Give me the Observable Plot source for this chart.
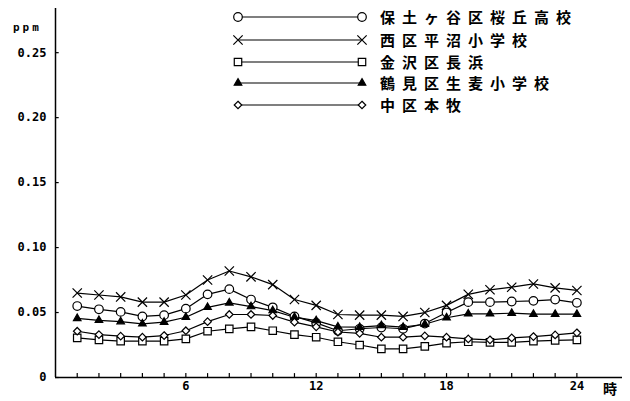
<!DOCTYPE html>
<html>
<head>
<meta charset="utf-8">
<script src="https://cdn.jsdelivr.net/npm/d3@7"></script>
<script src="https://cdn.jsdelivr.net/npm/@observablehq/plot@0.6"></script>
<style>
  html, body { margin: 0; padding: 0; background: #fff; }
  #chart { position: relative; width: 630px; height: 401px; }
</style>
</head>
<body>
<div id="chart"></div>
<script>
const hours = [1,2,3,4,5,6,7,8,9,10,11,12,13,14,15,16,17,18,19,20,21,22,23,24];
const seriesNames = ["保土ヶ谷区桜丘高校", "西区平沼小学校", "金沢区長浜", "鶴見区生麦小学校", "中区本牧"];
const hodogaya = [0.055,0.0525,0.0505,0.047,0.048,0.053,0.064,0.068,0.060,0.054,0.047,0.042,0.036,0.0375,0.0385,0.0375,0.0415,0.050,0.058,0.058,0.0585,0.059,0.060,0.0575];
const nishi    = [0.065,0.0635,0.062,0.058,0.058,0.0635,0.075,0.082,0.0775,0.0715,0.060,0.0555,0.0485,0.048,0.048,0.047,0.050,0.0555,0.064,0.0675,0.0695,0.072,0.069,0.067];
const kanazawa = [0.0305,0.029,0.028,0.028,0.028,0.0297,0.0356,0.0374,0.039,0.036,0.033,0.031,0.0275,0.025,0.022,0.022,0.024,0.0265,0.0275,0.027,0.027,0.028,0.0285,0.029];
const tsurumi  = [0.0455,0.044,0.043,0.0413,0.0426,0.0464,0.054,0.0574,0.0546,0.0515,0.0464,0.0438,0.039,0.0387,0.040,0.0387,0.041,0.046,0.049,0.049,0.0495,0.0487,0.0487,0.0487];
const honmoku  = [0.0356,0.033,0.0318,0.031,0.0323,0.036,0.043,0.0485,0.0485,0.0477,0.0426,0.039,0.035,0.034,0.031,0.031,0.032,0.031,0.0297,0.029,0.0305,0.0315,0.0328,0.0344];
const yTicks = [0, 0.05, 0.10, 0.15, 0.20, 0.25];
const xTickLabels = [6, 12, 18, 24];

const seriesValues = [hodogaya, nishi, kanazawa, tsurumi, honmoku];
const symbols = ["circle", "times", "square", "triangle", "diamond2"];
const fills = ["white", "none", "white", "black", "white"];
const sizes = [4.3, 4.3, 4.2, 2.8, 3.4];

const data = seriesNames.flatMap((name, i) =>
  hours.map((h, j) => ({series: name, hour: h, value: seriesValues[i][j]})));

const font = "'DejaVu Sans Mono', monospace";

const dotMarks = seriesNames.map((name, i) =>
  Plot.dot(data.filter(d => d.series === name), {
    x: "hour", y: "value", symbol: () => symbols[i], r: sizes[i],
    stroke: "black", fill: fills[i], strokeWidth: 1.2
  }));

const chart = Plot.plot({
  width: 630,
  height: 401,
  marginLeft: 55,
  marginRight: 8,
  marginTop: 8,
  marginBottom: 24,
  x: {domain: [0, 26.1]},
  y: {domain: [0, 0.284]},
  symbol: {type: "identity"},
  style: {fontFamily: font, fontSize: "12px", fontWeight: "bold", color: "black", background: "white"},
  marks: [
    Plot.axisY({ticks: yTicks, tickSize: 0, tickPadding: 9, label: null,
      tickFormat: d => d === 0 ? "0" : d.toFixed(2), style: {letterSpacing: "1.2px"}}),
    Plot.axisX({ticks: xTickLabels, tickSize: 0, tickPadding: 4, label: null,
      tickFormat: d => String(d), style: {letterSpacing: "2px"}}),
    Plot.ruleY(yTicks, {x1: 0, x2: 0.17, stroke: "black", strokeWidth: 1.2}),
    Plot.ruleX(hours, {y1: 0, y2: 0.003, stroke: "black", strokeWidth: 1.2}),
    Plot.ruleX([0], {stroke: "black", strokeWidth: 1.5}),
    Plot.ruleY([0], {stroke: "black", strokeWidth: 1.5}),
    Plot.line(data, {x: "hour", y: "value", z: "series", stroke: "black", strokeWidth: 1.2}),
    ...dotMarks
  ]
});

const svg = d3.select(chart);
// unit labels
svg.append("text").attr("x", 13).attr("y", 31).text("ppm")
  .attr("text-anchor", "start")
  .attr("font-family", font).attr("font-size", 11).attr("font-weight", "bold")
  .attr("letter-spacing", "3px");
svg.append("text").attr("x", 603).attr("y", 394).text("時")
  .attr("text-anchor", "start")
  .attr("font-family", "'Noto Sans CJK JP', sans-serif").attr("font-size", 14).attr("font-weight", "bold");

// legend
const legend = svg.append("g");
const rowY = [17, 40, 62, 83, 105];
seriesNames.forEach((name, i) => {
  const y = rowY[i];
  legend.append("line").attr("x1", 238).attr("x2", 362).attr("y1", y).attr("y2", y)
    .attr("stroke", "black").attr("stroke-width", 1.2);
  const sym = {circle: d3.symbolCircle, times: d3.symbolTimes, square: d3.symbolSquare,
               triangle: d3.symbolTriangle, diamond2: d3.symbolDiamond2}[symbols[i]];
  const path = d3.symbol(sym, Math.PI * sizes[i] * sizes[i])();
  [238, 362].forEach(x => {
    legend.append("path").attr("d", path).attr("transform", `translate(${x},${y})`)
      .attr("stroke", "black").attr("stroke-width", 1.2).attr("fill", fills[i]);
  });
  legend.append("text").attr("x", 380).attr("y", y + 6).text(name)
    .attr("text-anchor", "start")
    .attr("font-family", "'Noto Sans CJK JP', sans-serif").attr("font-size", 15)
    .attr("font-weight", "bold").attr("letter-spacing", "7px");
});

document.getElementById("chart").appendChild(chart);
</script>
</body>
</html>
